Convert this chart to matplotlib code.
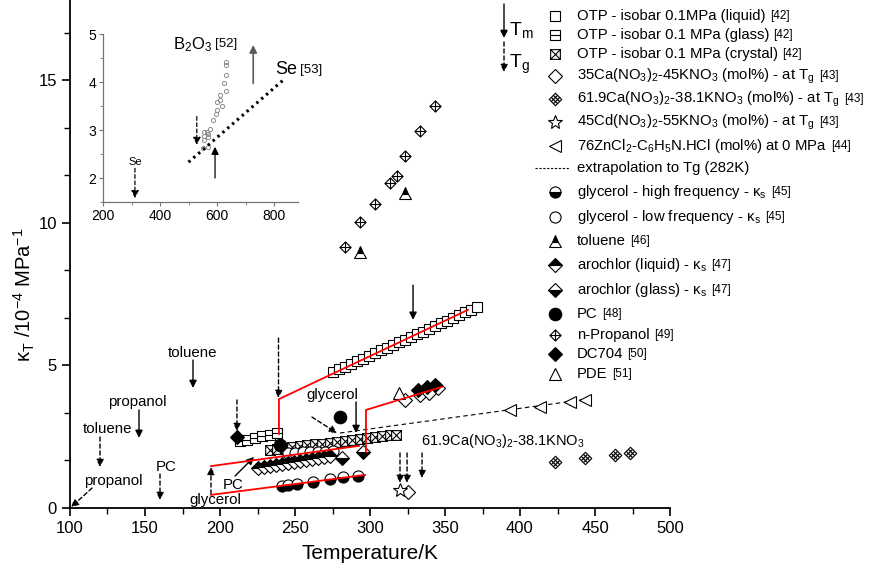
import matplotlib
matplotlib.use("Agg")
import matplotlib.pyplot as plt
from matplotlib.path import Path
from matplotlib.ticker import MultipleLocator, AutoMinorLocator

plt.rcParams['font.family'] = ['Liberation Sans', 'DejaVu Sans']
plt.rcParams['mathtext.fontset'] = 'custom'
plt.rcParams['mathtext.rm'] = 'Liberation Sans'
plt.rcParams['mathtext.it'] = 'Liberation Sans:italic'
plt.rcParams['mathtext.default'] = 'regular'

# ---------------- data ----------------
otp_liq_T = [275, 279, 283, 287, 291, 295, 299, 303, 307, 311, 315, 319, 323,
             327, 331, 335, 339, 343, 347, 351, 355, 359, 363, 367, 371]
otp_liq_k = [4.77, 4.86, 4.96, 5.05, 5.15, 5.24, 5.34, 5.43, 5.53, 5.62, 5.72, 5.81, 5.91,
             6.00, 6.10, 6.19, 6.29, 6.38, 6.48, 6.57, 6.67, 6.76, 6.86, 6.95, 7.05]
otp_gl_T = [213, 218, 223, 228, 233, 238]
otp_gl_k = [2.35, 2.40, 2.46, 2.51, 2.57, 2.62]
otp_cr_T = [233, 238, 243, 248, 253, 258, 263, 268, 273, 278, 283, 288, 293, 298, 303, 308, 313, 317]
otp_cr_k = [2.04, 2.07, 2.10, 2.13, 2.17, 2.20, 2.23, 2.26, 2.29, 2.32, 2.36, 2.39, 2.42,
            2.45, 2.48, 2.51, 2.55, 2.57]
ca35_T = [325, 323, 333, 339, 345]
ca35_k = [0.56, 3.79, 3.96, 4.04, 4.21]
ca61_T = [423, 443, 463, 473]
ca61_k = [1.61, 1.75, 1.86, 1.93]
cd45_T = [320]
cd45_k = [0.63]
zn_T = [393, 413, 433, 443]
zn_k = [3.44, 3.54, 3.72, 3.79]
extrap_T = [280, 445]
extrap_k = [2.63, 3.82]
gly_hf_T = [241, 245, 251, 262, 273, 282, 292]
gly_hf_k = [0.77, 0.81, 0.84, 0.91, 1.02, 1.09, 1.12]
gly_lf_T = [245, 250, 255, 260, 265, 270, 275]
gly_lf_k = [1.93, 1.94, 1.95, 1.96, 1.97, 1.98, 2.00]
tol_T = [293, 323]
tol_k = [8.98, 11.05]
aro_liq_T = [225, 229, 233, 237, 241, 245, 249, 253, 257, 261, 265, 269, 273]
aro_liq_k = [1.40, 1.43, 1.47, 1.50, 1.54, 1.57, 1.61, 1.64, 1.68, 1.71, 1.75, 1.78, 1.82]
aro_gl_T = [281, 295]
aro_gl_k = [1.75, 1.96]
pc_T = [240, 280]
pc_k = [2.21, 3.19]
prop_T = [283, 293, 303, 313, 318, 323, 333, 343]
prop_k = [9.16, 10.04, 10.67, 11.40, 11.65, 12.35, 13.23, 14.10]
dc_T = [211, 332, 338, 343]
dc_k = [2.50, 4.14, 4.25, 4.32]
pde_T = [319]
pde_k = [4.04]

# red guide lines
red_otp_T = [239.3, 239.3, 365.3]
red_otp_k = [2.60, 3.82, 6.95]
red_up_T = [194, 292.7]
red_up_k = [1.47, 2.18]
red_jump_T = [297.3, 297.3, 348]
red_jump_k = [1.96, 3.44, 4.25]
red_low_T = [194, 296.7]
red_low_k = [0.46, 1.16]

# inset
b2o3_T = [630, 630, 632, 625, 632, 612, 610, 600, 616, 600, 595, 585, 575, 565,
          568, 555, 555, 568, 555, 568, 552]
b2o3_k = [4.42, 4.35, 4.15, 3.98, 3.82, 3.72, 3.63, 3.58, 3.50, 3.42, 3.33, 3.20, 3.03,
          2.96, 2.91, 2.95, 2.88, 2.85, 2.80, 2.65, 2.62]
se_T = [500, 840]
se_k = [2.33, 4.08]

# ---------------- marker shapes ----------------
M, L, C = Path.MOVETO, Path.LINETO, Path.CLOSEPOLY
sq_bar = Path([(-1, -1), (1, -1), (1, 1), (-1, 1), (-1, -1), (-1, 0), (1, 0)],
              [M, L, L, L, C, M, L])
sq_x = Path([(-1, -1), (1, -1), (1, 1), (-1, 1), (-1, -1), (-1, -1), (1, 1), (-1, 1), (1, -1)],
            [M, L, L, L, C, M, L, M, L])
dia_plus = Path([(0, -1), (1, 0), (0, 1), (-1, 0), (0, -1), (0, -1), (0, 1), (-1, 0), (1, 0)],
                [M, L, L, L, C, M, L, M, L])
a, b = 1 / 3, 2 / 3
dia_hatch = Path([(0, -1), (1, 0), (0, 1), (-1, 0), (0, -1),
                  (-a, -b), (b, a), (-b, -a), (a, b),
                  (-a, b), (b, -a), (-b, a), (a, -b)],
                 [M, L, L, L, C, M, L, M, L, M, L, M, L])

ks = dict(ls='none', mec='k', mew=0.8)
styles = [
    dict(marker='s', ms=7, mfc='white', **ks),
    dict(marker=sq_bar, ms=7, mfc='white', **ks),
    dict(marker=sq_x, ms=7, mfc='white', **ks),
    dict(marker='D', ms=7, mfc='white', **ks),
    dict(marker=dia_hatch, ms=9, mfc='none', **ks),
    dict(marker='*', ms=10, mfc='white', **ks),
    dict(marker='<', ms=8, mfc='white', **ks),
    None,
    dict(marker='o', ms=8, mfc='k', fillstyle='bottom', markerfacecoloralt='white', **ks),
    dict(marker='o', ms=8, mfc='white', **ks),
    dict(marker='^', ms=8, mfc='k', fillstyle='top', markerfacecoloralt='white', **ks),
    dict(marker='D', ms=7, mfc='k', fillstyle='top', markerfacecoloralt='white', **ks),
    dict(marker='D', ms=7, mfc='k', fillstyle='bottom', markerfacecoloralt='white', **ks),
    dict(marker='o', ms=9, mfc='k', **ks),
    dict(marker=dia_plus, ms=8, mfc='white', **ks),
    dict(marker='D', ms=7, mfc='k', **ks),
    dict(marker='^', ms=8, mfc='white', **ks),
]

labels = [
    ('OTP - isobar 0.1MPa (liquid)', '[42]'),
    ('OTP - isobar 0.1 MPa (glass)', '[42]'),
    ('OTP - isobar 0.1 MPa (crystal)', '[42]'),
    ('35Ca(NO$_3$)$_2$-45KNO$_3$ (mol%) - at T$_g$', '[43]'),
    ('61.9Ca(NO$_3$)$_2$-38.1KNO$_3$ (mol%) - at T$_g$', '[43]'),
    ('45Cd(NO$_3$)$_2$-55KNO$_3$ (mol%) - at T$_g$', '[43]'),
    ('76ZnCl$_2$-C$_6$H$_5$N.HCl (mol%) at 0 MPa', '[44]'),
    ('extrapolation to Tg (282K)', ''),
    ('glycerol - high frequency - κ$_s$', '[45]'),
    ('glycerol - low frequency - κ$_s$', '[45]'),
    ('toluene', '[46]'),
    ('arochlor (liquid) - κ$_s$', '[47]'),
    ('arochlor (glass) - κ$_s$', '[47]'),
    ('PC', '[48]'),
    ('n-Propanol', '[49]'),
    ('DC704', '[50]'),
    ('PDE', '[51]'),
]
legend_rows = [16, 35, 54, 76, 99, 122, 146, 168, 192, 217, 241, 265, 290, 314, 335, 354, 374]

# ---------------- figure ----------------
fig = plt.figure(figsize=(8.79, 5.68), dpi=100)
ax = fig.add_axes([70 / 879, 60 / 568, 600 / 879, 508 / 568])

series = [
    (otp_liq_T, otp_liq_k, 0), (otp_gl_T, otp_gl_k, 1), (otp_cr_T, otp_cr_k, 2),
    (gly_lf_T, gly_lf_k, 9), (aro_liq_T, aro_liq_k, 11), (aro_gl_T, aro_gl_k, 12),
    (gly_hf_T, gly_hf_k, 8), (ca35_T, ca35_k, 3), (ca61_T, ca61_k, 4), (cd45_T, cd45_k, 5),
    (zn_T, zn_k, 6), (tol_T, tol_k, 10), (pc_T, pc_k, 13), (prop_T, prop_k, 14),
    (pde_T, pde_k, 16), (dc_T, dc_k, 15),
]
for i, (xs, ys, s) in enumerate(series):
    ax.plot(xs, ys, zorder=3 + i * 0.01, **styles[s])

ax.plot(extrap_T, extrap_k, color='k', lw=0.8, ls=(0, (4, 3)), zorder=2.5)
for xs, ys in [(red_otp_T, red_otp_k), (red_up_T, red_up_k),
               (red_jump_T, red_jump_k), (red_low_T, red_low_k)]:
    ax.plot(xs, ys, color='red', lw=1.3, zorder=4)

ax.set_xlim(100, 500)
ax.set_ylim(0, 17.82)
ax.xaxis.set_major_locator(MultipleLocator(50))
ax.xaxis.set_minor_locator(AutoMinorLocator(2))
ax.yaxis.set_major_locator(MultipleLocator(5))
ax.yaxis.set_minor_locator(AutoMinorLocator(3))
ax.spines['top'].set_visible(False)
ax.spines['right'].set_visible(False)
for sp in ('left', 'bottom'):
    ax.spines[sp].set_linewidth(1.3)
ax.tick_params(which='major', direction='out', length=6, width=1.2, labelsize=12)
ax.tick_params(which='minor', direction='out', length=4, width=1.0)
ax.set_xlabel('Temperature/K', fontsize=15)
ax.xaxis.set_label_coords(0.5, -0.07)
ax.set_ylabel('κ$_T$ /10$^{-4}$ MPa$^{-1}$', fontsize=14.5)
ax.yaxis.set_label_coords(-0.055, 0.42)

# annotations in the main plot
def arrow(axis, tail, head, dashed=False, color='k', lw=1.0):
    axis.annotate('', xy=head, xytext=tail, annotation_clip=False,
                  arrowprops=dict(arrowstyle='-|>', color=color, lw=lw,
                                  ls=(0, (3, 2)) if dashed else '-',
                                  mutation_scale=11, shrinkA=0, shrinkB=0))

fs = 10.8
ax.text(182, 5.44, 'toluene', fontsize=fs, ha='center', va='center')
arrow(ax, (182, 5.19), (182, 4.21))
ax.text(145, 3.72, 'propanol', fontsize=fs, ha='center', va='center')
arrow(ax, (146, 3.44), (146, 2.46))
ax.text(125, 2.77, 'toluene', fontsize=fs, ha='center', va='center')
arrow(ax, (120, 2.49), (120, 1.44), dashed=True)
ax.text(129, 0.95, 'propanol', fontsize=fs, ha='center', va='center')
arrow(ax, (114.7, 0.70), (100.7, 0.03), dashed=True)
ax.text(164, 1.44, 'PC', fontsize=fs, ha='center', va='center')
arrow(ax, (160, 1.19), (160, 0.28), dashed=True)
ax.text(197, 0.28, 'glycerol', fontsize=fs, ha='center', va='center')
arrow(ax, (194, 0.49), (194, 1.44), dashed=True)
ax.text(208.7, 0.81, 'PC', fontsize=fs, ha='center', va='center')
arrow(ax, (210, 1.12), (222.7, 1.79))
ax.text(274.7, 3.96, 'glycerol', fontsize=fs, ha='center', va='center')
arrow(ax, (290.7, 3.72), (290.7, 2.63))
arrow(ax, (261.3, 3.19), (278, 2.63), dashed=True)
arrow(ax, (211.3, 3.79), (211.3, 2.70), dashed=True)
arrow(ax, (239, 5.96), (239, 3.86), dashed=True)
arrow(ax, (328.7, 7.82), (328.7, 6.60))
arrow(ax, (320, 1.93), (320, 0.88), dashed=True)
arrow(ax, (324.7, 1.93), (324.7, 0.88), dashed=True)
arrow(ax, (334.7, 1.93), (334.7, 1.05), dashed=True)
ax.text(334, 2.35, '61.9Ca(NO$_3$)$_2$-38.1KNO$_3$', fontsize=10.5, ha='left', va='center')

# ---------------- inset ----------------
ins = fig.add_axes([103 / 879, 366 / 568, 195 / 879, 168 / 568])
ins.patch.set_alpha(0)
ins.plot(b2o3_T, b2o3_k, ls='none', marker='o', ms=3, mfc='none', mec='0.55', mew=0.7)
ins.plot(se_T, se_k, color='k', lw=2.2, ls=(0, (0.8, 1.3)))
ins.set_xlim(200, 884)
ins.set_ylim(1.5, 5.0)
ins.xaxis.set_major_locator(MultipleLocator(200))
ins.xaxis.set_minor_locator(AutoMinorLocator(2))
ins.yaxis.set_major_locator(MultipleLocator(1))
ins.yaxis.set_minor_locator(AutoMinorLocator(2))
ins.spines['top'].set_visible(False)
ins.spines['right'].set_visible(False)
for sp in ('left', 'bottom'):
    ins.spines[sp].set_color('0.45')
    ins.spines[sp].set_linewidth(0.9)
ins.tick_params(which='both', direction='out', color='0.45', labelsize=10, pad=2)
ins.tick_params(which='major', length=3)
ins.tick_params(which='minor', length=2)
arrow(ins, (529, 3.28), (529, 2.69), dashed=True, lw=0.9)
arrow(ins, (593, 2.00), (593, 2.65), lw=0.9)
arrow(ins, (727, 3.97), (727, 4.77), color='0.35', lw=1.2)
arrow(ins, (312, 2.20), (312, 1.58), dashed=True, lw=0.9)
ins.text(312, 2.33, 'Se', fontsize=8, ha='center', va='center')
t1 = ins.text(445, 4.77, 'B$_2$O$_3$', fontsize=12, ha='left', va='center', clip_on=False)
ins.annotate('[52]', xy=(1, 4.77), xycoords=(t1, 'data'), xytext=(2, 1),
             textcoords='offset points', fontsize=9.5, va='center', annotation_clip=False)
t2 = ins.text(803, 4.25, 'Se', fontsize=13, ha='left', va='center', clip_on=False)
ins.annotate('[53]', xy=(1, 4.25), xycoords=(t2, 'data'), xytext=(2, 0),
             textcoords='offset points', fontsize=9.5, va='center', annotation_clip=False)

# ---------------- legend (pixel overlay) ----------------
ov = fig.add_axes([0, 0, 1, 1], zorder=5)
ov.set_xlim(0, 879)
ov.set_ylim(568, 0)
ov.axis('off')
for (lab, ref), st, yy in zip(labels, styles, legend_rows):
    if st is None:
        ov.plot([535, 570], [yy, yy], color='k', lw=0.8, ls=(0, (2, 1.5)))
    else:
        ov.plot([555], [yy], **st)
    t = ov.text(577, yy, lab, fontsize=10.7, ha='left', va='center')
    if ref:
        ov.annotate(ref, xy=(1, yy), xycoords=(t, 'data'), xytext=(3, 0),
                    textcoords='offset points', fontsize=8.5, va='center')

arrow(ov, (504, 4), (504, 38))
ov.text(509, 30, 'T$_m$', fontsize=14, ha='left', va='center')
arrow(ov, (504, 42), (504, 72), dashed=True)
ov.text(509, 64, 'T$_g$', fontsize=14, ha='left', va='center')

fig.savefig('out.png', dpi=100, facecolor='white')
